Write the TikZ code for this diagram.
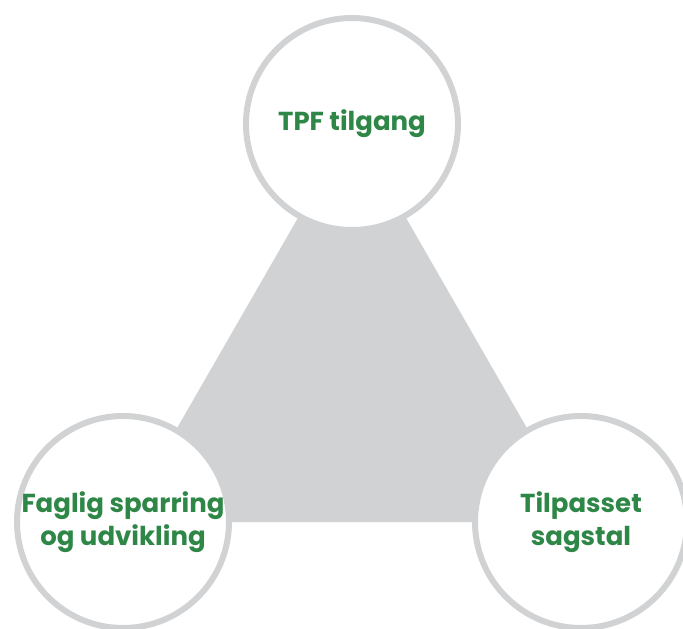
\documentclass[tikz,border=0pt]{standalone}
\usepackage{fontspec}
\setmainfont{Poppins}
\definecolor{ringgray}{HTML}{D1D2D4}
\definecolor{txtgreen}{HTML}{2E8747}
\tikzset{
  bubble/.style={circle, draw=ringgray, line width=6pt, fill=white,
    minimum size=212pt, inner sep=0pt, align=center, text=txtgreen,
    font=\fontsize{26}{33}\selectfont\bfseries}
}
\begin{document}
\begin{tikzpicture}[x=1pt,y=-1pt]
\useasboundingbox (0,0) rectangle (683,629);
\clip (0,0) rectangle (683,629);
\coordinate (A) at (352,124);
\coordinate (B) at (123,522);
\coordinate (C) at (581,522);
\fill[ringgray] (A) -- (B) -- (C) -- cycle;
\node[bubble] (top) at (A) {TPF tilgang};
\node[bubble] (left) at (B) {Faglig sparring\\og udvikling};
\node[bubble] (right) at (C) {Tilpasset\\sagstal};
\end{tikzpicture}
\end{document}
